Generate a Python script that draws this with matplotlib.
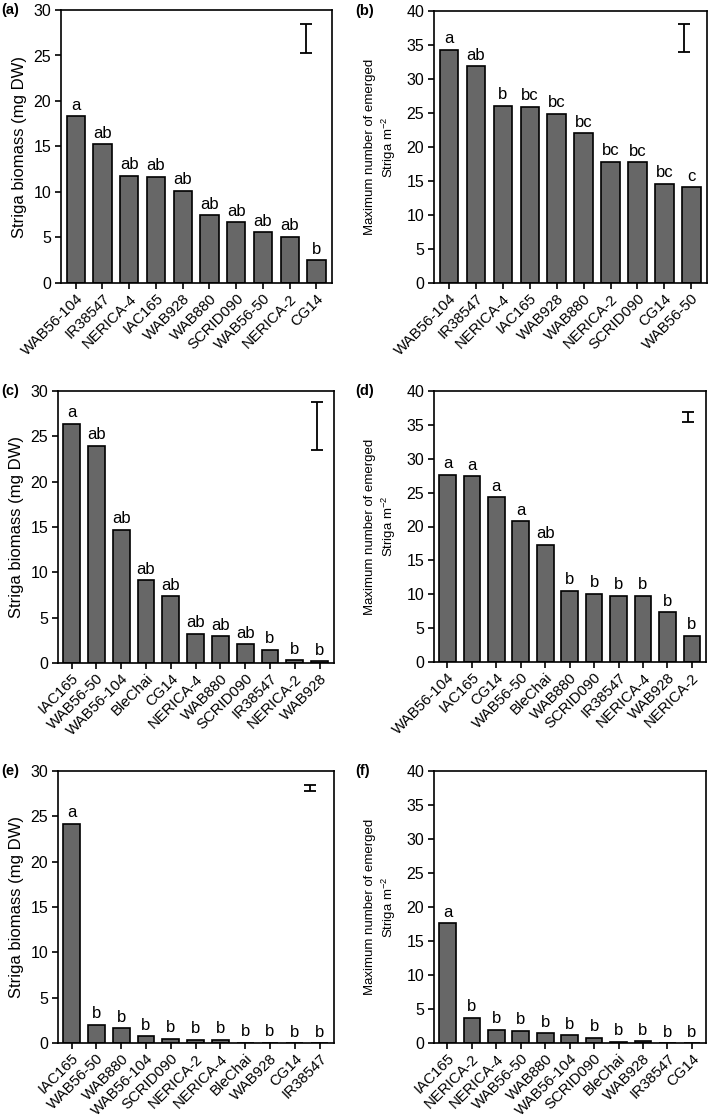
import matplotlib
matplotlib.use("Agg")
import matplotlib.pyplot as plt
import numpy as np

plt.rcParams['font.family'] = ['Liberation Sans', 'DejaVu Sans']
plt.rcParams['mathtext.fontset'] = 'custom'
plt.rcParams['mathtext.rm'] = 'Liberation Sans'
plt.rcParams['mathtext.it'] = 'Liberation Sans:italic'
plt.rcParams['mathtext.bf'] = 'Liberation Sans:bold'

# ---- data ----
a_cats = ["WAB56-104", "IR38547", "NERICA-4", "IAC165", "WAB928", "WAB880",
          "SCRID090", "WAB56-50", "NERICA-2", "CG14"]
a_vals = [18.3, 15.25, 11.8, 11.7, 10.15, 7.45, 6.65, 5.6, 5.1, 2.5]
a_lets = ["a", "ab", "ab", "ab", "ab", "ab", "ab", "ab", "ab", "b"]
a_err = (8.62, 25.3, 28.5)

b_cats = ["WAB56-104", "IR38547", "NERICA-4", "IAC165", "WAB928", "WAB880",
          "NERICA-2", "SCRID090", "CG14", "WAB56-50"]
b_vals = [34.3, 31.85, 26.1, 25.9, 24.9, 22.0, 17.85, 17.75, 14.6, 14.1]
b_lets = ["a", "ab", "b", "bc", "bc", "bc", "bc", "bc", "bc", "c"]
b_err = (8.73, 33.9, 38.1)

c_cats = ["IAC165", "WAB56-50", "WAB56-104", "BleChai", "CG14", "NERICA-4",
          "WAB880", "SCRID090", "IR38547", "NERICA-2", "WAB928"]
c_vals = [26.4, 23.95, 14.7, 9.1, 7.35, 3.25, 2.95, 2.07, 1.45, 0.3, 0.19]
c_lets = ["a", "ab", "ab", "ab", "ab", "ab", "ab", "ab", "b", "b", "b"]
c_err = (9.9, 23.5, 28.8)

d_cats = ["WAB56-104", "IAC165", "CG14", "WAB56-50", "BleChai", "WAB880",
          "SCRID090", "IR38547", "NERICA-4", "WAB928", "NERICA-2"]
d_vals = [27.65, 27.4, 24.3, 20.8, 17.3, 10.55, 10.07, 9.78, 9.78, 7.35, 3.9]
d_lets = ["a", "a", "a", "a", "ab", "b", "b", "b", "b", "b", "b"]
d_err = (9.84, 35.4, 36.9)

e_cats = ["IAC165", "WAB56-50", "WAB880", "WAB56-104", "SCRID090", "NERICA-2",
          "NERICA-4", "BleChai", "WAB928", "CG14", "IR38547"]
e_vals = [24.2, 2.0, 1.6, 0.72, 0.46, 0.35, 0.35, 0.05, 0.05, 0.0, 0.0]
e_lets = ["a", "b", "b", "b", "b", "b", "b", "b", "b", "b", "b"]
e_err = (9.62, 27.8, 28.5)

f_cats = ["IAC165", "NERICA-2", "NERICA-4", "WAB56-50", "WAB880", "WAB56-104",
          "SCRID090", "BleChai", "WAB928", "IR38547", "CG14"]
f_vals = [17.65, 3.7, 1.97, 1.77, 1.43, 1.18, 0.79, 0.2, 0.25, 0.0, 0.0]
f_lets = ["a", "b", "b", "b", "b", "b", "b", "b", "b", "b", "b"]

ylab_bio = "Striga biomass (mg DW)"
ylab_num = "Maximum number of emerged\nStriga m$^{-2}$"

W, H = 709, 1118
fig = plt.figure(figsize=(W / 100, H / 100), dpi=100)


def add_ax(x0, x1, y0, y1):
    return fig.add_axes([x0 / W, 1 - y1 / H, (x1 - x0) / W, (y1 - y0) / H])


panels = [
    ("(a)", 1, (61, 332, 10, 283), a_cats, a_vals, a_lets, a_err, 30, ylab_bio),
    ("(b)", 355, (434, 707, 11, 283), b_cats, b_vals, b_lets, b_err, 40, ylab_num),
    ("(c)", 1, (58, 334, 391, 663), c_cats, c_vals, c_lets, c_err, 30, ylab_bio),
    ("(d)", 355, (434, 706, 391, 662), d_cats, d_vals, d_lets, d_err, 40, ylab_num),
    ("(e)", 1, (58, 334, 771, 1043), e_cats, e_vals, e_lets, e_err, 30, ylab_bio),
    ("(f)", 355, (434, 706, 771, 1043), f_cats, f_vals, f_lets, None, 40, ylab_num),
]

for lab, labx, box, cats, vals, lets, err, ymax, ylab in panels:
    ax = add_ax(*box)
    n = len(cats)
    x = np.arange(n)
    ax.bar(x, vals, width=0.68, color="#676767", edgecolor="black", linewidth=1.2, zorder=2)
    for xi, v, t in zip(x, vals, lets):
        ax.annotate(t, (xi, v), xytext=(0, 2.5), textcoords="offset points",
                    ha="center", va="bottom", fontsize=12)
    if err is not None:
        ex, lo, hi = err
        mid = (lo + hi) / 2
        ax.errorbar([ex], [mid], yerr=[[mid - lo], [hi - mid]], fmt="none",
                    ecolor="black", elinewidth=1.3, capsize=4, capthick=1.3)
    ax.set_xlim(-0.55, n - 1 + 0.58)
    ax.set_ylim(0, ymax)
    ax.set_yticks(np.arange(0, ymax + 1, 5))
    ax.set_xticks(x)
    ax.set_xticklabels(cats, rotation=45, ha="right", rotation_mode="anchor", fontsize=10.8)
    ax.tick_params(axis="y", labelsize=11.5, direction="out", length=4, width=1.2, pad=3)
    ax.tick_params(axis="x", direction="out", length=4, width=1.2, pad=2)
    for s in ax.spines.values():
        s.set_linewidth(1.2)
    if ylab == ylab_bio:
        ax.set_ylabel(ylab, fontsize=12, labelpad=5)
    else:
        ax.set_ylabel(ylab, fontsize=9.5, labelpad=6, linespacing=1.3)
    fig.text(labx / W, 1 - box[2] / H, lab,
             fontsize=10.5, fontweight="bold", ha="left", va="center")

fig.savefig("out.png", dpi=100)
